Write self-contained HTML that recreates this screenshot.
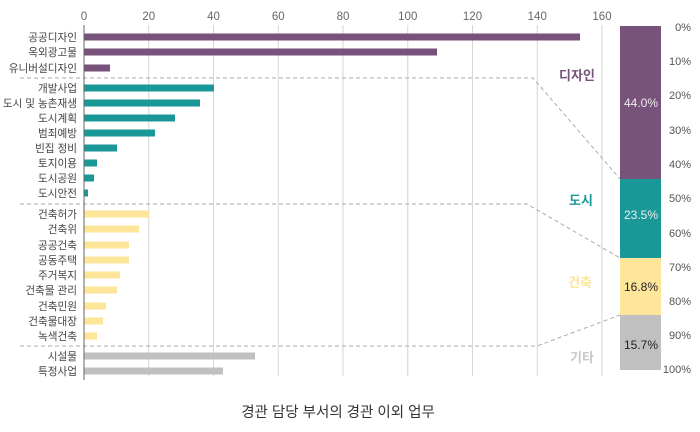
<!DOCTYPE html>
<html><head><meta charset="utf-8"><style>
html,body{margin:0;padding:0;background:#fff;}
svg{display:block;font-family:"Liberation Sans","Noto Sans CJK KR",sans-serif;}
</style></head><body>
<svg width="700" height="432" viewBox="0 0 700 432">
<g stroke="#d6d6d6" stroke-width="1">
<line x1="148.75" y1="25" x2="148.75" y2="376"/>
<line x1="213.5" y1="25" x2="213.5" y2="376"/>
<line x1="278.25" y1="25" x2="278.25" y2="376"/>
<line x1="343" y1="25" x2="343" y2="376"/>
<line x1="407.75" y1="25" x2="407.75" y2="376"/>
<line x1="472.5" y1="25" x2="472.5" y2="376"/>
<line x1="537.25" y1="25" x2="537.25" y2="376"/>
<line x1="602" y1="25" x2="602" y2="376"/>
</g>
<g font-size="11.5" fill="#666" text-anchor="middle">
<text x="84" y="20">0</text><text x="148.75" y="20">20</text><text x="213.5" y="20">40</text><text x="278.25" y="20">60</text><text x="343" y="20">80</text><text x="407.75" y="20">100</text><text x="472.5" y="20">120</text><text x="537.25" y="20">140</text><text x="602" y="20">160</text>
</g>
<g fill="none" stroke="#aaa" stroke-width="1" stroke-dasharray="4,3">
<polyline points="20,78 533,78 620,179"/>
<polyline points="20,204 527,204 620,258"/>
<polyline points="20,346 537,346 620,315"/>
</g>
<g font-size="10.6" fill="#444" text-anchor="end">
<text x="77" y="41">공공디자인</text><text x="77" y="56">옥외광고물</text><text x="77" y="72">유니버설디자인</text>
<text x="77" y="92">개발사업</text><text x="77" y="107">도시 및 농촌재생</text><text x="77" y="122">도시계획</text><text x="77" y="137">범죄예방</text><text x="77" y="152">빈집 정비</text><text x="77" y="167">토지이용</text><text x="77" y="182">도시공원</text><text x="77" y="197">도시안전</text>
<text x="77" y="218">건축허가</text><text x="77" y="233">건축위</text><text x="77" y="249">공공건축</text><text x="77" y="264">공동주택</text><text x="77" y="279">주거복지</text><text x="77" y="294">건축물 관리</text><text x="77" y="310">건축민원</text><text x="77" y="325">건축물대장</text><text x="77" y="340">녹색건축</text>
<text x="77" y="360">시설물</text><text x="77" y="375">특정사업</text>
</g>
<g fill="#77527a">
<rect x="84" y="33.5" width="496" height="7"/><rect x="84" y="48.5" width="353" height="7"/><rect x="84" y="64.5" width="26" height="7"/>
</g>
<g fill="#1a9898">
<rect x="84" y="84.5" width="130" height="7"/><rect x="84" y="99.5" width="116" height="7"/><rect x="84" y="114.5" width="91" height="7"/><rect x="84" y="129.5" width="71" height="7"/><rect x="84" y="144.5" width="33" height="7"/><rect x="84" y="159.5" width="13" height="7"/><rect x="84" y="174.5" width="10" height="7"/><rect x="84" y="189.5" width="4" height="7"/>
</g>
<g fill="#fde59a">
<rect x="84" y="210.5" width="65" height="7"/><rect x="84" y="225.5" width="55" height="7"/><rect x="84" y="241.5" width="45" height="7"/><rect x="84" y="256.5" width="45" height="7"/><rect x="84" y="271.5" width="36" height="7"/><rect x="84" y="286.5" width="33" height="7"/><rect x="84" y="302.5" width="22" height="7"/><rect x="84" y="317.5" width="19" height="7"/><rect x="84" y="332.5" width="13" height="7"/>
</g>
<g fill="#c0c0c0">
<rect x="84" y="352.5" width="171" height="7"/><rect x="84" y="367.5" width="139" height="7"/>
</g>
<line x1="84" y1="25" x2="84" y2="380" stroke="#666" stroke-width="1"/>
<rect x="620" y="26" width="41" height="153" fill="#77527a"/>
<rect x="620" y="179" width="41" height="79" fill="#1a9898"/>
<rect x="620" y="258" width="41" height="57" fill="#fde59a"/>
<rect x="620" y="315" width="41" height="55" fill="#c0c0c0"/>
<g font-size="12" text-anchor="middle">
<text x="641" y="107" fill="#eee">44.0%</text>
<text x="641" y="219" fill="#eee">23.5%</text>
<text x="641" y="291" fill="#222">16.8%</text>
<text x="641" y="349" fill="#222">15.7%</text>
</g>
<g font-size="13" font-weight="bold" text-anchor="middle">
<text x="577" y="80" fill="#77527a">디자인</text>
<text x="581" y="205" fill="#1a9898">도시</text>
<text x="580" y="287" fill="#fde59a">건축</text>
<text x="582" y="362" fill="#c8c8c8">기타</text>
</g>
<g font-size="11" fill="#555" text-anchor="end">
<text x="691" y="31">0%</text><text x="691" y="65">10%</text><text x="691" y="99">20%</text><text x="691" y="134">30%</text><text x="691" y="168">40%</text><text x="691" y="202">50%</text><text x="691" y="237">60%</text><text x="691" y="271">70%</text><text x="691" y="305">80%</text><text x="691" y="339">90%</text><text x="691" y="373">100%</text>
</g>
<text x="338" y="417" font-size="14.5" fill="#333" text-anchor="middle">경관 담당 부서의 경관 이외 업무</text>
</svg>
</body></html>
